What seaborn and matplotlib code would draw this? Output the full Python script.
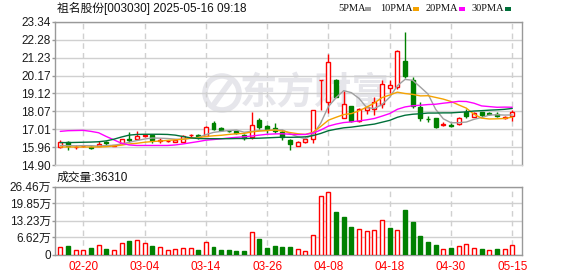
import numpy as np
import pandas as pd
import matplotlib
matplotlib.use("Agg")
import matplotlib.pyplot as plt
import seaborn as sns
from matplotlib.patches import Rectangle, Ellipse
from matplotlib.lines import Line2D

# ---------------- data ----------------
title = "祖名股份[003030] 2025-05-16 09:18"
last_volume = 36310

dates = ["02-17", "02-18", "02-19", "02-20", "02-21", "02-24", "02-25", "02-26", "02-27", "02-28",
         "03-03", "03-04", "03-05", "03-06", "03-07", "03-10", "03-11", "03-12", "03-13", "03-14",
         "03-17", "03-18", "03-19", "03-20", "03-21", "03-24", "03-25", "03-26", "03-27", "03-28",
         "03-31", "04-01", "04-02", "04-03", "04-07", "04-08", "04-09", "04-10", "04-11", "04-14",
         "04-15", "04-16", "04-17", "04-18", "04-21", "04-22", "04-23", "04-24", "04-25", "04-28",
         "04-29", "04-30", "05-06", "05-07", "05-08", "05-09", "05-12", "05-13", "05-14", "05-15"]

opens = [15.98, 16.23, 15.94, 15.99, 15.95, 16.04, 16.24, 16.03, 16.17, 16.46,
         16.46, 16.60, 16.65, 16.32, 16.30, 16.27, 16.27, 16.64, 16.66, 16.62,
         17.39, 17.08, 16.92, 16.88, 16.65, 16.56, 17.56, 17.19, 17.10, 16.85,
         16.36, 16.02, 16.25, 16.41, 19.90, 18.62, 19.93, 17.68, 18.37, 17.49,
         18.11, 18.17, 18.52, 19.44, 19.48, 21.05, 19.93, 18.31, 17.62, 17.64,
         17.28, 17.27, 17.33, 18.03, 17.74, 18.03, 17.95, 17.93, 17.66, 17.76]
highs = [16.36, 16.31, 16.08, 16.08, 16.04, 16.31, 16.30, 16.08, 16.45, 16.85,
         16.88, 16.72, 16.69, 16.50, 16.40, 16.44, 16.65, 16.75, 16.75, 17.18,
         17.48, 17.12, 16.97, 16.92, 16.75, 18.04, 17.66, 17.27, 17.37, 16.94,
         16.46, 16.30, 16.55, 18.11, 19.92, 21.46, 19.95, 19.25, 18.40, 18.25,
         18.37, 18.89, 19.93, 19.93, 21.65, 22.73, 20.09, 18.62, 17.78, 17.66,
         17.43, 17.35, 17.70, 18.17, 18.03, 18.05, 18.05, 18.03, 17.78, 18.11]
lows = [15.88, 15.77, 15.84, 15.94, 15.83, 16.02, 16.10, 16.00, 16.15, 16.23,
        16.42, 16.55, 16.17, 16.17, 16.26, 16.25, 16.23, 16.56, 16.46, 16.58,
        16.94, 16.90, 16.83, 16.75, 16.36, 16.46, 17.04, 16.81, 16.79, 16.36,
        15.80, 16.00, 16.18, 16.17, 18.15, 17.94, 18.89, 17.64, 17.45, 17.45,
        17.92, 17.82, 18.27, 19.15, 19.40, 20.03, 18.23, 17.52, 17.45, 17.05,
        17.19, 17.15, 17.25, 17.64, 17.70, 17.70, 17.85, 17.70, 17.62, 17.52]
closes = [16.27, 16.04, 15.98, 16.03, 15.90, 16.12, 16.21, 16.06, 16.42, 16.40,
          16.60, 16.66, 16.36, 16.36, 16.33, 16.40, 16.60, 16.67, 16.63, 17.14,
          17.04, 16.94, 16.88, 16.79, 16.50, 17.27, 17.14, 17.00, 16.88, 16.56,
          16.11, 16.25, 16.45, 18.11, 19.92, 20.97, 18.89, 18.52, 17.49, 18.21,
          18.31, 18.60, 19.68, 19.64, 21.63, 20.13, 18.37, 17.68, 17.58, 17.13,
          17.32, 17.22, 17.68, 17.78, 17.97, 17.84, 17.93, 17.78, 17.70, 18.01]

ma5 = [16.05, 16.04, 16.03, 16.04, 16.04, 16.01, 16.05, 16.06, 16.14, 16.24,
       16.34, 16.43, 16.49, 16.48, 16.46, 16.42, 16.41, 16.47, 16.52, 16.69,
       16.82, 16.88, 16.93, 16.96, 16.83, 16.88, 16.92, 16.94, 16.96, 16.97,
       16.74, 16.56, 16.45, 16.70, 17.37, 18.34, 18.87, 19.28, 19.16, 18.82,
       18.28, 18.23, 18.46, 18.89, 19.57, 19.94, 19.89, 19.49, 19.08, 18.18,
       17.62, 17.39, 17.39, 17.43, 17.59, 17.70, 17.84, 17.86, 17.84, 17.85]
ma10 = [15.96, 15.96, 15.96, 15.96, 15.96, 15.96, 15.98, 16.02, 16.07, 16.14,
        16.18, 16.24, 16.28, 16.31, 16.35, 16.38, 16.42, 16.48, 16.50, 16.58,
        16.62, 16.65, 16.70, 16.74, 16.76, 16.85, 16.90, 16.93, 16.96, 16.90,
        16.81, 16.74, 16.70, 16.83, 17.17, 17.54, 17.71, 17.87, 17.93, 18.09,
        18.31, 18.55, 18.87, 19.02, 19.19, 19.11, 19.06, 18.97, 18.98, 18.88,
        18.78, 18.64, 18.44, 18.25, 17.89, 17.66, 17.61, 17.62, 17.64, 17.72]
ma20 = [16.88, 16.92, 16.93, 16.94, 16.88, 16.80, 16.58, 16.38, 16.18, 16.08,
        16.05, 16.05, 16.05, 16.05, 16.05, 16.08, 16.14, 16.21, 16.28, 16.36,
        16.40, 16.44, 16.49, 16.53, 16.56, 16.61, 16.66, 16.71, 16.73, 16.74,
        16.71, 16.69, 16.70, 16.78, 16.96, 17.19, 17.31, 17.40, 17.44, 17.50,
        17.56, 17.64, 17.78, 17.93, 18.18, 18.32, 18.39, 18.42, 18.46, 18.48,
        18.54, 18.59, 18.65, 18.64, 18.54, 18.38, 18.34, 18.30, 18.31, 18.30]
ma30 = [16.22, 16.22, 16.23, 16.24, 16.25, 16.27, 16.32, 16.42, 16.55, 16.66,
        16.70, 16.71, 16.71, 16.71, 16.70, 16.66, 16.58, 16.50, 16.46, 16.45,
        16.45, 16.45, 16.45, 16.46, 16.46, 16.47, 16.48, 16.50, 16.52, 16.54,
        16.53, 16.54, 16.56, 16.63, 16.76, 16.92, 17.01, 17.09, 17.13, 17.19,
        17.25, 17.31, 17.42, 17.53, 17.71, 17.83, 17.89, 17.92, 17.96, 17.96,
        17.97, 17.97, 18.00, 18.03, 18.08, 18.10, 18.13, 18.15, 18.18, 18.23]

volumes_wan = [2.9, 3.4, 1.9, 1.9, 2.6, 3.8, 2.3, 1.9, 4.5, 5.4,
               5.7, 4.5, 3.4, 2.9, 1.9, 2.3, 2.5, 2.5, 1.9, 4.9,
               3.1, 1.9, 1.6, 1.3, 1.5, 8.7, 6.0, 2.6, 3.4, 2.8,
               2.8, 2.3, 1.5, 7.6, 22.9, 24.2, 16.6, 14.4, 10.6, 10.1,
               9.1, 9.7, 13.5, 10.2, 9.7, 17.4, 12.8, 7.2, 4.9, 3.8,
               2.1, 2.6, 3.3, 4.0, 2.5, 2.3, 1.8, 2.3, 2.1, 3.63]
vol_dir = list("RGRRGRGRRG" "RRGRRRRRGR" "GGGGGRGGGG" "GRRRRRGGGR"
               "RRRGRGGGGG" "RGRRRGRGRR")

price_ticks = [23.34, 22.28, 21.23, 20.17, 19.12, 18.07, 17.01, 15.96, 14.90]
vol_ticks = [0, 6.62, 13.23, 19.85, 26.46]
ma_names = ["5PMA", "10PMA", "20PMA", "30PMA"]

# ---------------- style ----------------
sns.set_style("white")
plt.rcParams["font.family"] = ["Liberation Sans", "Noto Sans CJK SC"]
plt.rcParams["axes.unicode_minus"] = False

RED = "#ff0000"
GREEN = "#008000"
MA_COLORS = ["#a0a0a0", "#f5a200", "#ff00ff", "#00703a"]
FRAME = "#999999"
GRID = "#d0d0d0"

W, H = 578, 276
fig = plt.figure(figsize=(W / 100, H / 100), dpi=100)
fig.patch.set_facecolor("white")

left, right = 55, 522
ax_p = fig.add_axes([left / W, 1 - 165 / H, (right - left) / W, (165 - 21.7) / H])
ax_v = fig.add_axes([left / W, 1 - 254.5 / H, (right - left) / W, (254.5 - 186.5) / H])

n = len(closes)
x = np.arange(n)
df = pd.DataFrame({"x": x, "open": opens, "high": highs, "low": lows, "close": closes,
                   "ma5": ma5, "ma10": ma10, "ma20": ma20, "ma30": ma30,
                   "vol": volumes_wan, "dir": vol_dir})
xlim = (-0.69, 60.27)

# ---------------- price panel ----------------
up = df["close"] >= df["open"]
ccol = np.where(up, RED, GREEN)
ax_p.vlines(df["x"], df["low"], df["high"], colors=ccol, linewidth=1, zorder=2)
body_h = np.maximum((df["close"] - df["open"]).abs(), 0.012)
body_b = np.minimum(df["open"], df["close"])
ax_p.bar(df["x"], body_h, bottom=body_b, width=0.52,
         facecolor=np.where(up, "white", GREEN), edgecolor=ccol, linewidth=1, zorder=3)

for col, c in zip(["ma5", "ma10", "ma20", "ma30"], MA_COLORS):
    sns.lineplot(data=df, x="x", y=col, ax=ax_p, color=c, linewidth=1.0, legend=False, zorder=4)

ax_p.set_xlim(*xlim)
ax_p.set_ylim(14.90, 23.34)
ax_p.set_yticks(price_ticks)
ax_p.set_yticklabels([f"{t:.2f}" for t in price_ticks])
ax_p.set_xticks(x[3::8])
ax_p.tick_params(axis="x", bottom=False, labelbottom=False)
ax_p.set_xlabel("")
ax_p.set_ylabel("")
ax_p.set_axisbelow(True)
ax_p.grid(axis="y", color=GRID, linewidth=1, linestyle="-")
ax_p.grid(axis="x", color=GRID, linewidth=1, linestyle=(0, (4, 3)))

# watermark
ax_p.text(315 / W * 0 + (315 - left) / (right - left), (165 - 93) / (165 - 21.7), "东方财富",
          transform=ax_p.transAxes, ha="center", va="center", fontsize=27,
          fontweight="bold", color="#e6e6eb", family=["Noto Sans CJK SC"], zorder=0.1)
ax_p.add_patch(Ellipse(((222 - left) / (right - left), (165 - 93) / (165 - 21.7)),
                       34 / (right - left), 34 / (165 - 21.7), transform=ax_p.transAxes,
                       facecolor="none", edgecolor="#e6e6eb", linewidth=4, zorder=0.1))
ax_p.add_line(Line2D([(214 - left) / (right - left), (230 - left) / (right - left)],
                     [(165 - 104) / (165 - 21.7), (165 - 82) / (165 - 21.7)],
                     transform=ax_p.transAxes, color="#e6e6eb", linewidth=4, zorder=0.1))

# ---------------- volume panel ----------------
vcol = np.where(df["dir"] == "R", RED, GREEN)
ax_v.bar(df["x"], df["vol"], width=0.52, facecolor=np.where(df["dir"] == "R", "white", GREEN),
         edgecolor=vcol, linewidth=1, zorder=3)
ax_v.set_xlim(*xlim)
ax_v.set_ylim(0, 26.46)
ax_v.set_yticks(vol_ticks)
ax_v.set_yticklabels(["0"] + [f"{t:.2f}万" for t in vol_ticks[1:]])
ax_v.set_xticks(x[3::8])
ax_v.set_xticklabels([dates[i] for i in x[3::8]])
ax_v.set_axisbelow(True)
ax_v.grid(axis="y", color=GRID, linewidth=1, linestyle="-")
ax_v.grid(axis="x", color=GRID, linewidth=1, linestyle=(0, (4, 3)))

for ax in (ax_p, ax_v):
    for s in ax.spines.values():
        s.set_color(FRAME)
        s.set_linewidth(1)
    ax.tick_params(axis="y", left=True, length=2, width=1, color=FRAME, pad=1,
                   labelsize=8.5, labelcolor="#1a1a1a")
ax_p.spines["bottom"].set_color(GRID)
ax_v.tick_params(axis="x", bottom=False, length=0, pad=5, labelsize=8.5, labelcolor=RED)

# ---------------- texts ----------------
fig.text(57 / W, 1 - 8.5 / H, title, ha="left", va="center", fontsize=8.5, color="#111111")
fig.text(57 / W, 1 - 178 / H, f"成交量:{last_volume}", ha="left", va="center",
         fontsize=8.5, color="#111111")

legend_items = [(338, 365), (380, 413), (426, 459), (472, 505)]
for (tx, sx), name, c in zip(legend_items, ma_names, MA_COLORS):
    fig.text(tx / W, 1 - 8.5 / H, name, ha="left", va="center", fontsize=7.5,
             family=["Liberation Serif"], color="#111111")
    fig.patches.append(Rectangle((sx / W, 1 - 10.5 / H), 6 / W, 3.5 / H, transform=fig.transFigure,
                                 facecolor=c, edgecolor="none"))

fig.savefig("out.png", dpi=100, facecolor="white")
